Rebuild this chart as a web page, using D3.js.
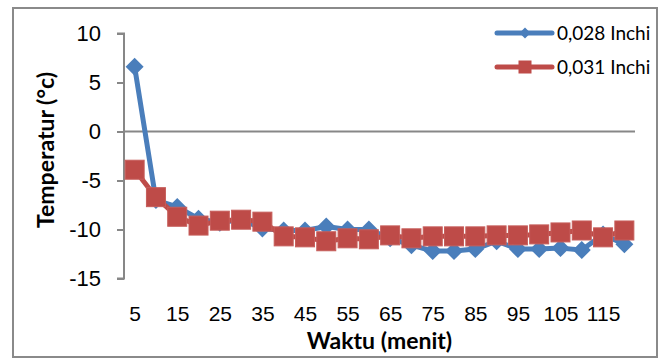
<!DOCTYPE html>
<html>
<head>
<meta charset="utf-8">
<script src="https://cdn.jsdelivr.net/npm/d3@7/dist/d3.min.js"></script>
<style>
  html, body { margin: 0; padding: 0; background: #fff; }
  svg { display: block; font-family: Lato, "Open Sans", sans-serif; }
</style>
</head>
<body>
<svg id="chart" width="662" height="361"></svg>
<script>
// Time in minutes
const categories = [5, 10, 15, 20, 25, 30, 35, 40, 45, 50, 55, 60,
                    65, 70, 75, 80, 85, 90, 95, 100, 105, 110, 115, 120];

// Temperature (°C) for two wire diameters
const series028 = [6.6, -7.0, -7.7, -8.9, -9.3, -9.0, -9.9, -10.1, -10.1, -9.7, -10.0, -10.0,
                   -10.9, -11.6, -12.2, -12.2, -12.0, -11.2, -12.0, -12.0, -11.9, -12.1, -10.5, -11.5];
const series031 = [-3.9, -6.7, -8.7, -9.6, -9.1, -9.0, -9.2, -10.7, -10.8, -11.2, -10.9, -11.0,
                   -10.6, -10.9, -10.7, -10.7, -10.7, -10.6, -10.6, -10.5, -10.3, -10.1, -10.8, -10.1];

const seriesNames = ["0,028 Inchi", "0,031 Inchi"];
const xTickLabels = [5, 15, 25, 35, 45, 55, 65, 75, 85, 95, 105, 115];
const yTickLabels = [10, 5, 0, -5, -10, -15];

const svg = d3.select("#chart");

// Outer chart frame
svg.append("rect")
  .attr("x", 13).attr("y", 8).attr("width", 644).attr("height", 349)
  .attr("fill", "#fff").attr("stroke", "#8a8a8a").attr("stroke-width", 2);

const plot = { left: 124, right: 635, top: 33.5, bottom: 278.5 };

const x = d3.scalePoint().domain(categories).range([plot.left, plot.right]).padding(0.5);
const y = d3.scaleLinear().domain([-15, 10]).range([plot.bottom, plot.top]);

// Horizontal axis line at zero
svg.append("line")
  .attr("x1", plot.left).attr("x2", plot.right)
  .attr("y1", y(0)).attr("y2", y(0))
  .attr("stroke", "#878787").attr("stroke-width", 2);

// Value axis
const yAxis = d3.axisLeft(y).tickValues(yTickLabels).tickSize(7).tickPadding(16)
  .tickFormat(d3.format("d"));
const gy = svg.append("g").attr("transform", `translate(${plot.left},0)`).call(yAxis);
gy.select(".domain").attr("stroke", "#878787").attr("stroke-width", 2)
  .attr("d", `M-7,${plot.top}H0V${plot.bottom}H-7`);
gy.selectAll(".tick line").attr("stroke", "#878787").attr("stroke-width", 2);
gy.selectAll(".tick text").attr("font-size", 22).attr("fill", "#000")
  .text(d => d < 0 ? "-" + Math.abs(d) : d);

// Category labels along the bottom
const xAxis = d3.axisBottom(x).tickValues(xTickLabels).tickSize(0).tickPadding(0);
const gx = svg.append("g").attr("transform", `translate(0,${plot.bottom + 29})`).call(xAxis);
gx.select(".domain").remove();
gx.selectAll(".tick text").attr("font-size", 21).attr("fill", "#000").attr("dy", 0)
  .attr("y", 13);

// Axis titles
svg.append("text")
  .attr("x", (plot.left + plot.right) / 2).attr("y", 348.5)
  .attr("text-anchor", "middle").attr("font-size", 23).attr("font-weight", "bold")
  .text("Waktu (menit)");

svg.append("text")
  .attr("transform", "translate(54,150) rotate(-90)")
  .attr("text-anchor", "middle").attr("font-size", 23).attr("font-weight", "bold")
  .text("Temperatur (°c)");

const blue = "#4a7ebb", red = "#be4b48";
const line = d3.line().x((d, i) => x(categories[i])).y(d => y(d));

// Series 0,028 Inchi — diamonds
svg.append("path").datum(series028)
  .attr("d", line).attr("fill", "none").attr("stroke", blue)
  .attr("stroke-width", 5).attr("stroke-linejoin", "round");
svg.append("g").selectAll("path").data(series028).join("path")
  .attr("d", (d, i) => {
    const cx = x(categories[i]), cy = y(d), r = 9;
    return `M${cx},${cy - r}L${cx + r},${cy}L${cx},${cy + r}L${cx - r},${cy}Z`;
  })
  .attr("fill", blue);

// Series 0,031 Inchi — squares
svg.append("path").datum(series031)
  .attr("d", line).attr("fill", "none").attr("stroke", red)
  .attr("stroke-width", 5).attr("stroke-linejoin", "round");
svg.append("g").selectAll("rect").data(series031).join("rect")
  .attr("x", (d, i) => x(categories[i]) - 9.5)
  .attr("y", d => y(d) - 9.5)
  .attr("width", 19).attr("height", 19)
  .attr("fill", red).attr("stroke", "#c65d5a").attr("stroke-width", 1);

// Legend
const legend = svg.append("g");
const legendRows = [
  { name: seriesNames[0], color: blue, shape: "diamond", y: 33 },
  { name: seriesNames[1], color: red, shape: "square", y: 67 }
];
legendRows.forEach(r => {
  legend.append("line").attr("x1", 497).attr("x2", 552).attr("y1", r.y).attr("y2", r.y)
    .attr("stroke", r.color).attr("stroke-width", 5).attr("stroke-linecap", "round");
  if (r.shape === "diamond") {
    const s = 5.5;
    legend.append("path")
      .attr("d", `M525,${r.y - s}L${525 + s},${r.y}L525,${r.y + s}L${525 - s},${r.y}Z`)
      .attr("fill", r.color);
  } else {
    legend.append("rect").attr("x", 518.5).attr("y", r.y - 6.5)
      .attr("width", 13).attr("height", 13).attr("fill", r.color);
  }
  legend.append("text").attr("x", 557).attr("y", r.y + 7)
    .attr("font-size", 19).attr("fill", "#000").text(r.name);
});
</script>
</body>
</html>
